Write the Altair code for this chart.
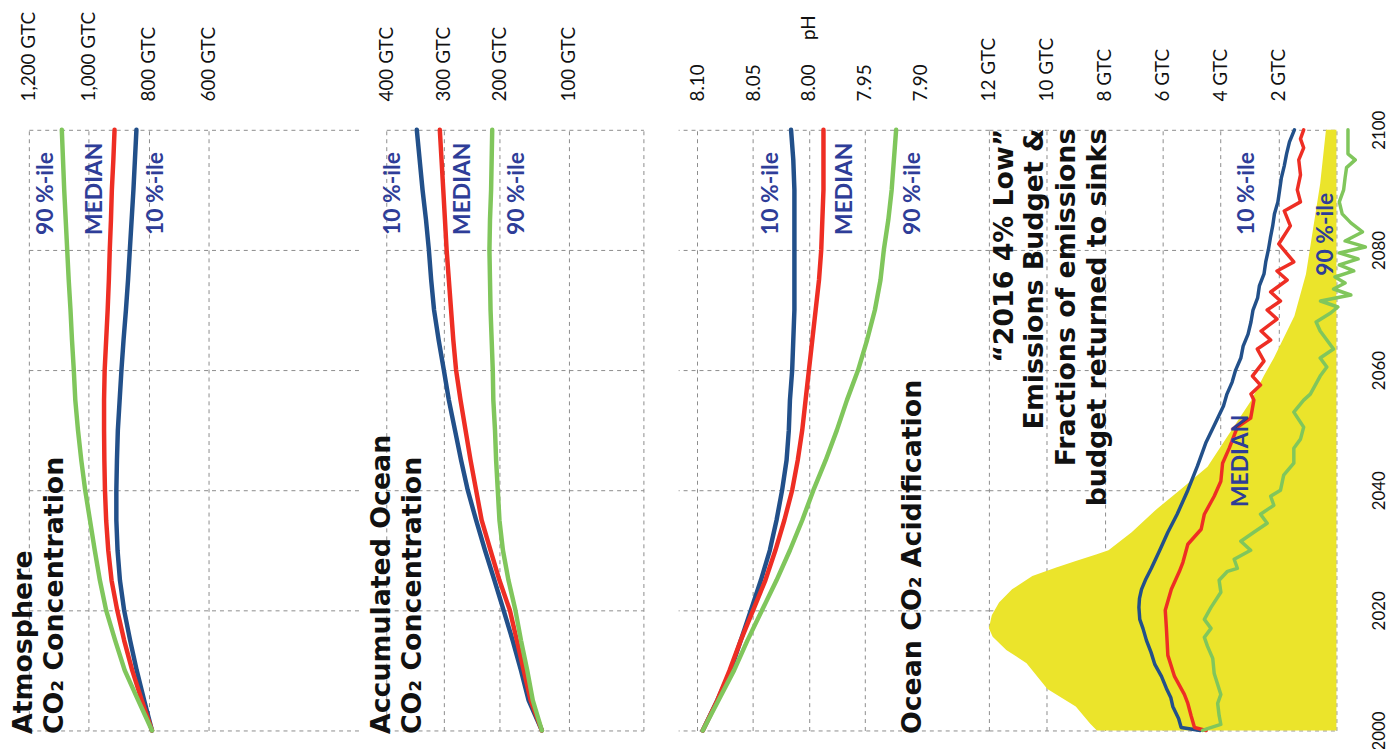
import altair as alt
import pandas as pd

# ---------------- data ----------------
years = [2000, 2005, 2010, 2015, 2020, 2025, 2030, 2035, 2040, 2045, 2050,
         2055, 2060, 2065, 2070, 2075, 2080, 2085, 2090, 2095, 2100]

atm_p90 = [789, 835, 880, 912, 942, 963, 980, 996, 1012, 1025, 1036, 1045, 1050, 1056, 1061, 1067, 1072, 1077, 1082, 1086, 1090]
atm_med = [789, 823, 855, 882, 905, 924, 935, 942, 946, 948, 949, 949, 947, 942, 937, 933, 930, 926, 923, 918, 914]
atm_p10 = [789, 815, 840, 862, 882, 896, 904, 908, 908, 906, 903, 897, 891, 884, 876, 869, 863, 857, 851, 846, 841]

ocean_p10 = [139, 158, 169, 181, 194, 209, 226, 242, 257, 269, 280, 291, 300, 309, 317, 322, 326, 331, 337, 342, 347]
ocean_med = [139, 155, 165, 175, 185, 200, 216, 232, 242, 252, 261, 270, 278, 283, 287, 291, 295, 298, 301, 304, 307]
ocean_p90 = [139, 152, 160, 169, 177, 187, 195, 200, 203, 206, 208, 211, 212, 214, 216, 217, 218, 217, 215, 214, 213]

ph_p10 = [8.095, 8.082, 8.070, 8.061, 8.052, 8.043, 8.035, 8.029, 8.024, 8.020, 8.018, 8.017, 8.015, 8.014, 8.013, 8.013, 8.013, 8.013, 8.013, 8.014, 8.016]
ph_med = [8.095, 8.082, 8.071, 8.061, 8.050, 8.039, 8.030, 8.022, 8.015, 8.010, 8.006, 8.003, 8.000, 7.997, 7.994, 7.991, 7.989, 7.988, 7.987, 7.987, 7.987]
ph_p90 = [8.095, 8.081, 8.067, 8.055, 8.042, 8.029, 8.017, 8.006, 7.996, 7.985, 7.975, 7.966, 7.956, 7.948, 7.941, 7.936, 7.933, 7.929, 7.926, 7.924, 7.922]

budget_years = [2000, 2001.1, 2004, 2006.9, 2011.2, 2013.4, 2015.6, 2017, 2019.2, 2021.3, 2023.5,
                2025.7, 2027.1, 2028.2, 2029.3, 2030, 2033, 2036.6, 2040.2, 2043.9, 2049, 2054.8,
                2059.1, 2062, 2069, 2076, 2084, 2091, 2100]
budget_vals = [8.27, 8.5, 9.0, 9.98, 10.7, 11.4, 11.87, 12.0, 11.9, 11.65, 11.2,
               10.5, 9.7, 9.0, 8.3, 7.87, 7.07, 6.27, 5.36, 4.45, 3.76, 2.96,
               2.5, 2.16, 1.45, 1.05, 0.79, 0.56, 0.36]

sink10_years = [2000, 2000.5, 2002, 2004, 2005.5, 2007, 2009, 2011, 2013, 2015, 2017, 2018.5, 2020.5,
                2022, 2023.5, 2025, 2027, 2030, 2033, 2036, 2040, 2044, 2048, 2051, 2054, 2056, 2058,
                2060, 2062, 2064, 2066, 2068, 2070, 2072, 2074, 2076, 2078, 2080, 2082, 2084, 2086,
                2088, 2090, 2092, 2094, 2096, 2098, 2100]
sink10_vals = [4.7, 5.36, 5.45, 5.65, 5.72, 5.87, 6.04, 6.27, 6.4, 6.56, 6.68, 6.79, 6.82,
               6.8, 6.73, 6.6, 6.39, 6.1, 5.82, 5.5, 5.13, 4.8, 4.5, 4.2, 3.9, 3.78, 3.6,
               3.48, 3.3, 3.22, 3.05, 2.95, 2.88, 2.72, 2.66, 2.5, 2.44, 2.35, 2.28, 2.2, 2.14,
               2.02, 1.96, 1.9, 1.8, 1.72, 1.62, 1.45]

sinkmed_years = [2000, 2000.5, 2002.5, 2004.5, 2006, 2009, 2012.5, 2017, 2020, 2023.5, 2026.5, 2028,
                 2031, 2033.5, 2036, 2039, 2041.5, 2044.5, 2047, 2050.5, 2052, 2055, 2056, 2057.5,
                 2059, 2061.5, 2063.5, 2065, 2066.5, 2068.5, 2070, 2071.5, 2073, 2075, 2076.5, 2078,
                 2081, 2084, 2086.5, 2088, 2090, 2092.5, 2095, 2097, 2098.5, 2100]
sinkmed_vals = [4.5, 4.9, 5.02, 5.13, 5.25, 5.59, 5.82, 5.87, 5.91, 5.7, 5.42, 5.3,
                5.13, 4.67, 4.56, 4.22, 3.99, 3.93, 3.7, 3.42, 2.96, 2.85, 2.95, 2.62,
                2.9, 2.5, 2.73, 2.27, 2.6, 2.05, 2.39, 1.93, 2.27, 1.7, 2.05, 1.47,
                1.99, 1.59, 1.8, 1.24, 1.35, 1.24, 1.3, 1.13, 1.24, 1.13]

sink90_years = [2000, 2000.3, 2001, 2002.5, 2004.5, 2006, 2009.5, 2012, 2014, 2015.5, 2017, 2018.5,
                2020.5, 2023, 2025, 2026.5, 2027, 2028.5, 2030, 2031.5, 2033, 2034.5, 2036, 2037.5,
                2039, 2040, 2042.5, 2044.5, 2047, 2048.5, 2050.5, 2053, 2055, 2056, 2059, 2060.5,
                2062, 2063.5, 2065, 2066.5, 2068, 2069.5, 2070.5, 2071.5, 2072.5, 2073.5, 2074.5,
                2075.5, 2076.5, 2077.5, 2078.5, 2079.5, 2080.5, 2081.5, 2083, 2084.5, 2086, 2088,
                2090, 2092, 2093.7, 2095, 2096, 2098, 2100]
sink90_vals = [4.62, 4.45, 3.99, 4.05, 4.1, 3.99, 4.22, 4.27, 4.45, 4.56, 4.33, 4.56,
               4.33, 3.99, 4.05, 3.76, 3.42, 3.53, 2.96, 3.3, 2.85, 2.39, 2.62, 2.16,
               2.27, 1.93, 1.82, 1.47, 1.47, 1.24, 1.13, 1.47, 1.13, 0.9, 0.56, 0.33,
               0.56, 0.1, 0.33, 0.56, 0.7, 0.2, -0.05, 0.55, -0.5, 0.1, -0.3,
               0.05, -0.6, -0.1, -0.75, -0.1, -1.0, -0.3, -0.9, -0.5, -0.2, -0.1,
               -0.25, -0.3, -0.35, -0.65, -0.4, -0.4, -0.4]

grid_years = [2000, 2020, 2040, 2060, 2080, 2100]
atm_ticks = [1200, 1000, 800, 600]
ocean_ticks = [400, 300, 200, 100, 0]
ph_ticks = [8.10, 8.05, 8.00, 7.95, 7.90]
emis_ticks = [12, 10, 8, 6, 4, 2, 0]

# ---------------- style ----------------
BLUE = "#22508A"
RED = "#EE2E24"
GREEN = "#80C65C"
LABEL = "#2E3D98"
YELLOW = "#EBE42B"
GRID = "#8C8C8C"
TICKFONT = "Lato"
TITLEFONT = "DejaVu Sans"
H = 605


def lines_frame(yrs, p10, med, p90, y10=None, ymed=None, y90=None):
    parts = []
    for s, v, yy in (("p10", p10, y10 or yrs), ("med", med, ymed or yrs), ("p90", p90, y90 or yrs)):
        parts.append(pd.DataFrame({"year": yy, "value": v, "series": s}))
    return pd.concat(parts, ignore_index=True)


yscale = alt.Scale(domain=[2000, 2100], nice=False, zero=False)


def y_enc(right=False):
    common = dict(values=grid_years, grid=True, gridColor=GRID, gridDash=[4, 4], gridWidth=1,
                  ticks=False, domain=False, title=None)
    if right:
        ax = alt.Axis(orient="right", labels=True, labelAngle=270, labelAlign="center",
                      labelBaseline="top", labelPadding=35, labelFont=TICKFONT,
                      labelFontSize=17, labelColor="#111111", format="d", labelFlush=False,
                      labelOverlap=False, **common)
    else:
        ax = alt.Axis(labels=False, **common)
    return alt.Y("year:Q", scale=yscale, axis=ax)


def x_axis(values, expr, grid_opacity=None):
    kw = dict(orient="top", values=values, labelExpr=expr, grid=True, gridColor=GRID,
              gridDash=[4, 4], gridWidth=1, ticks=False, domain=False, title=None,
              labelAngle=270, labelAlign="left", labelBaseline="middle", labelPadding=29,
              labelFont=TICKFONT, labelFontSize=19, labelColor="#111111",
              labelFlush=False, labelOverlap=False)
    if grid_opacity is not None:
        kw["gridOpacity"] = grid_opacity
    return alt.Axis(**kw)


def panel(width, xscale, xaxis, lines_df, labels_df, titles_df, title_align,
          area_df=None, right=False, stroke=4.5):
    x = alt.X("value:Q", scale=xscale, axis=xaxis)
    y = y_enc(right)
    layers = []
    if area_df is not None:
        layers.append(alt.Chart(area_df).mark_area(orient="horizontal", color=YELLOW, opacity=1)
                      .encode(x=x, y=y))
    layers.append(
        alt.Chart(lines_df).mark_line(strokeWidth=stroke, strokeJoin="round", strokeCap="round")
        .encode(x=x, y=y, order=alt.Order("year:Q"),
                color=alt.Color("series:N", legend=None,
                                scale=alt.Scale(domain=["p10", "med", "p90"], range=[BLUE, RED, GREEN])))
    )
    layers.append(
        alt.Chart(labels_df).mark_text(angle=270, align="left", baseline="middle", font=TICKFONT,
                                       fontWeight="bold", fontSize=23, color=LABEL)
        .encode(x=x, y=y, text="text:N")
    )
    layers.append(
        alt.Chart(titles_df).mark_text(angle=270, align=title_align, baseline="middle",
                                       font=TITLEFONT, fontWeight="bold", fontSize=27,
                                       color="#111111")
        .encode(x=x, y=y, text="text:N")
    )
    return alt.layer(*layers).properties(width=width, height=H)


LBL_YEAR = 2082.5
TITLE_BOTTOM = 1999.4

# Panel 1 : Atmosphere
p1 = panel(
    332,
    alt.Scale(domain=[100, 1200], reverse=True, nice=False, zero=False),
    x_axis(atm_ticks, "format(datum.value, ',') + ' GTC'"),
    lines_frame(years, atm_p10, atm_med, atm_p90),
    pd.DataFrame({"text": ["90 %-ile", "MEDIAN", "10 %-ile"],
                  "value": [1144, 978, 776], "year": [LBL_YEAR] * 3}),
    pd.DataFrame({"text": ["Atmosphere", "CO₂ Concentration"],
                  "value": [1216, 1112], "year": [TITLE_BOTTOM] * 2}),
    "left",
)

# Panel 2 : Accumulated ocean
p2 = panel(
    322,
    alt.Scale(domain=[400, 300, 200, 100, 0], range=[28, 86, 142, 212, 287], nice=False, zero=False),
    x_axis(ocean_ticks, "datum.value == 0 ? '' : datum.value + ' GTC'"),
    lines_frame(years, ocean_p10, ocean_med, ocean_p90),
    pd.DataFrame({"text": ["10 %-ile", "MEDIAN", "90 %-ile"],
                  "value": [388, 266, 174], "year": [LBL_YEAR] * 3}),
    pd.DataFrame({"text": ["Accumulated Ocean", "CO₂ Concentration"],
                  "value": [407, 353], "year": [TITLE_BOTTOM] * 2}),
    "left",
)

# Panel 3 : Acidification
p3 = panel(
    313,
    alt.Scale(domain=[7.839, 8.117], reverse=True, nice=False, zero=False),
    x_axis(ph_ticks,
           "abs(datum.value - 8) < 0.001 ? '8.00\u00a0\u00a0\u00a0\u00a0\u00a0pH' : format(datum.value, '.2f')",
           grid_opacity={"condition": {"test": "datum.value < 7.93", "value": 0}, "value": 1}),
    lines_frame(years, ph_p10, ph_med, ph_p90),
    pd.DataFrame({"text": ["10 %-ile", "MEDIAN", "90 %-ile"],
                  "value": [8.0343, 7.9677, 7.9073], "year": [LBL_YEAR] * 3}),
    pd.DataFrame({"text": ["Ocean CO₂ Acidification"],
                  "value": [7.9073], "year": [TITLE_BOTTOM]}),
    "left",
)

# Panel 4 : Emissions budget
p4 = panel(
    350,
    alt.Scale(domain=[0, 12], reverse=True, nice=False, zero=False),
    x_axis(emis_ticks, "datum.value == 0 ? '' : datum.value + ' GTC'"),
    lines_frame(None, sink10_vals, sinkmed_vals, sink90_vals,
                y10=sink10_years, ymed=sinkmed_years, y90=sink90_years),
    pd.DataFrame({"text": ["10 %-ile", "MEDIAN", "90 %-ile"],
                  "value": [3.09, 3.29, 0.34], "year": [LBL_YEAR, 2037.2, 2075.7]}),
    pd.DataFrame({"text": ["“2016 4% Low”", "Emissions Budget &",
                           "Fractions of emissions", "budget returned to sinks"],
                  "value": [11.45, 10.39, 9.29, 8.23], "year": [2100.2] * 4}),
    "right",
    area_df=pd.DataFrame({"year": budget_years, "value": budget_vals}),
    right=True,
    stroke=3.5,
)

chart = (
    alt.hconcat(p1, p2, p3, p4, spacing=0, bounds="flush")
    .resolve_scale(x="independent")
    .resolve_axis(x="independent", y="independent")
    .properties(padding={"left": 2, "top": 0, "right": 4, "bottom": 0}, background="white")
    .configure_view(stroke=None)
)

chart.save("out.html", embed_options={"renderer": "svg", "actions": False})
